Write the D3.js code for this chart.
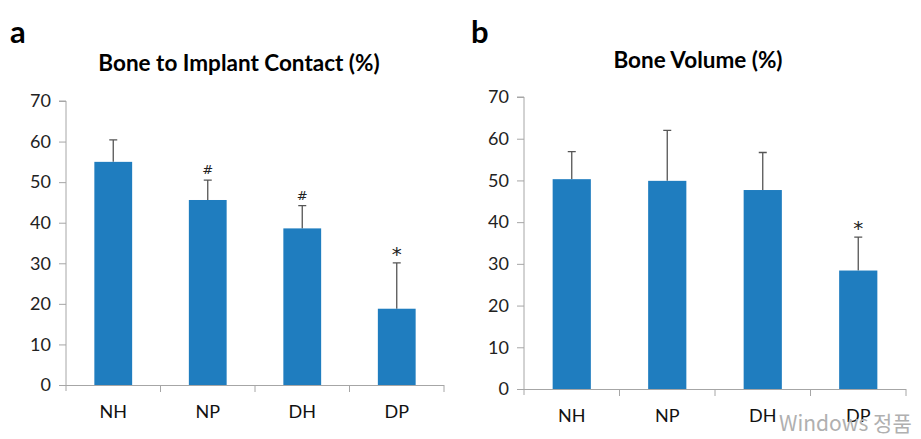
<!DOCTYPE html>
<html>
<head>
<meta charset="utf-8">
<script src="https://cdn.jsdelivr.net/npm/d3@7"></script>
<style>
  body { margin: 0; background: #fff; }
  text { font-family: Lato, "Open Sans", sans-serif; }
</style>
</head>
<body>
<svg id="chart" width="921" height="439"></svg>
<script>
// data
var groups = ["NH", "NP", "DH", "DP"];
var yTicks = [0, 10, 20, 30, 40, 50, 60, 70];

var bicMeans = [55.0, 45.6, 38.6, 18.8];
var bicErr = [5.4, 4.9, 5.6, 11.3];
var bicMarks = ["", "#", "#", "*"];

var bvMeans = [50.3, 49.9, 47.7, 28.4];
var bvErr = [6.6, 12.1, 9.0, 8.0];
var bvMarks = ["", "", "", "*"];

var barColor = "#1f7dbf";
var axisColor = "#a6a6a6";

var svg = d3.select("#chart");

function drawPanel(opt) {
  var x = d3.scaleBand()
    .domain(groups)
    .range([opt.left, opt.right])
    .paddingInner(0.6)
    .paddingOuter(0.3);
  var y = d3.scaleLinear()
    .domain([0, 70])
    .range([opt.bottom, opt.top]);

  var g = svg.append("g");

  // panel letter + title
  g.append("text")
    .attr("x", opt.letterX).attr("y", 43)
    .style("font-size", "31px").style("font-weight", "bold")
    .text(opt.letter);
  g.append("text")
    .attr("x", opt.titleX).attr("y", opt.titleY)
    .attr("text-anchor", "middle")
    .style("font-size", "22.5px").style("font-weight", "bold")
    .text(opt.title);

  // y axis
  var yAxis = g.append("g")
    .attr("transform", "translate(" + opt.left + ",0)")
    .call(d3.axisLeft(y).tickValues(yTicks).tickSize(7).tickPadding(8));
  yAxis.select(".domain").attr("stroke", axisColor).attr("d", "M0," + (opt.bottom + 6) + "V" + opt.top + "H-7");
  yAxis.selectAll(".tick line").attr("stroke", axisColor);
  yAxis.selectAll(".tick text")
    .style("font-family", "Lato, sans-serif")
    .style("font-size", "18px").attr("fill", "#222");

  // x axis, ticks between the categories
  var bounds = d3.range(groups.length + 1).map(function(i) { return opt.left + i * (opt.right - opt.left) / groups.length; });
  g.append("line")
    .attr("x1", opt.left).attr("x2", opt.right)
    .attr("y1", opt.bottom + 0.5).attr("y2", opt.bottom + 0.5)
    .attr("stroke", axisColor);
  g.selectAll(".xtick").data(bounds.slice(1)).enter()
    .append("line")
    .attr("x1", function(d) { return d; }).attr("x2", function(d) { return d; })
    .attr("y1", opt.bottom).attr("y2", opt.bottom + 7)
    .attr("stroke", axisColor);
  g.selectAll(".xlab").data(groups).enter()
    .append("text")
    .attr("x", function(d) { return x(d) + x.bandwidth() / 2; })
    .attr("y", opt.bottom + 33)
    .attr("text-anchor", "middle")
    .style("font-size", "18px").attr("fill", "#111")
    .text(function(d) { return d; });

  // error bars (upper only)
  g.selectAll(".err").data(groups).enter()
    .append("path")
    .attr("d", function(d, i) {
      var cx = x(d) + x.bandwidth() / 2;
      var top = y(opt.means[i] + opt.err[i]);
      return "M" + cx + "," + y(opt.means[i]) + "V" + top + "M" + (cx - 4) + "," + top + "H" + (cx + 4);
    })
    .attr("stroke", "#555").attr("stroke-width", 1.3).attr("fill", "none");

  // bars
  g.selectAll(".bar").data(groups).enter()
    .append("rect")
    .attr("x", function(d) { return x(d); })
    .attr("width", x.bandwidth())
    .attr("y", function(d, i) { return y(opt.means[i]); })
    .attr("height", function(d, i) { return opt.bottom - y(opt.means[i]); })
    .attr("fill", barColor);

  // significance marks
  g.selectAll(".mark").data(groups).enter()
    .append("text")
    .attr("x", function(d) { return x(d) + x.bandwidth() / 2; })
    .attr("y", function(d, i) { return y(opt.means[i] + opt.err[i]) - (opt.marks[i] === "*" ? 2 : 6); })
    .attr("text-anchor", "middle")
    .style("font-family", "'DejaVu Sans', sans-serif")
    .style("font-size", function(d, i) { return opt.marks[i] === "*" ? "20px" : "13px"; })
    .attr("fill", "#222")
    .text(function(d, i) { return opt.marks[i]; });
}

drawPanel({
  letter: "a", letterX: 10,
  title: "Bone to Implant Contact (%)", titleX: 239, titleY: 71,
  left: 66, right: 444, top: 101, bottom: 385,
  means: bicMeans, err: bicErr, marks: bicMarks
});

drawPanel({
  letter: "b", letterX: 471,
  title: "Bone Volume (%)", titleX: 698, titleY: 68,
  left: 524, right: 906, top: 97, bottom: 389,
  means: bvMeans, err: bvErr, marks: bvMarks
});

// watermark in the screenshot
svg.append("text")
  .attr("x", 779).attr("y", 431)
  .style("font-family", "'Noto Sans CJK KR', 'Noto Sans', sans-serif")
  .style("font-size", "21px").attr("fill", "#b0b0b0")
  .text("Windows 정품");
</script>
</body>
</html>
